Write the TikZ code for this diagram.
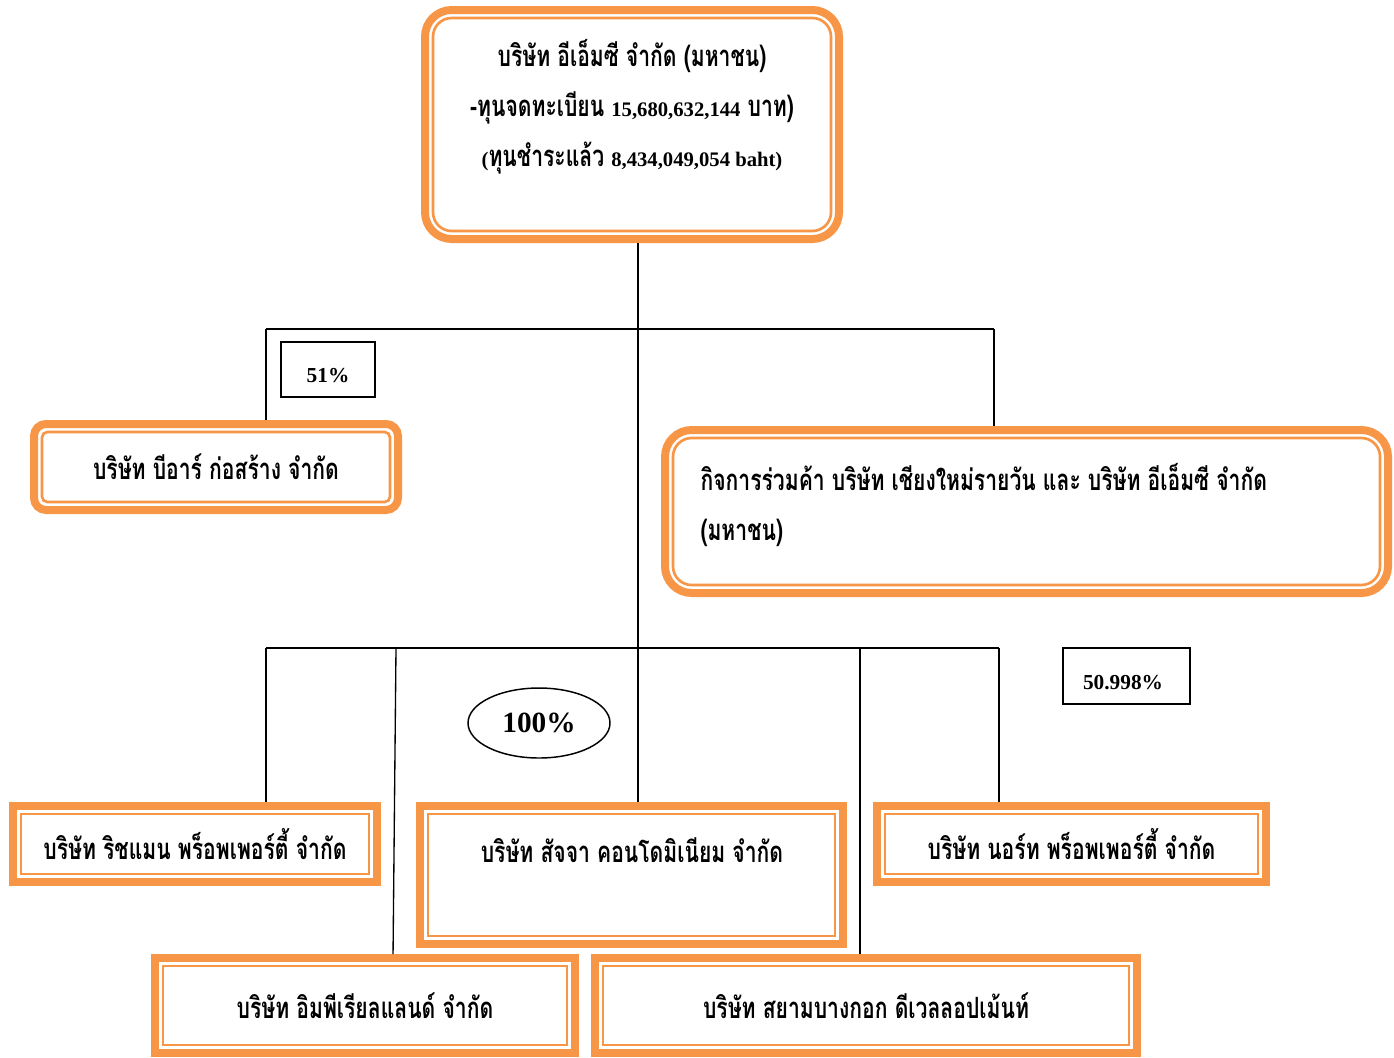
\documentclass[tikz,border=0pt]{standalone}
\usepackage{fontspec}
\setmainfont{Loma}[Script=Thai, FakeStretch=0.72]
\newfontfamily\latfont{Liberation Serif}
\newcommand\latnum[1]{{\latfont\fontsize{15.5}{37.5}\selectfont #1}}
\usetikzlibrary{positioning,calc,shapes.geometric}
\definecolor{orgline}{RGB}{247,150,70}

\tikzset{every picture/.style={line width=0.75pt}}
\tikzset{
  orgbox/.style={draw=orgline, line width=6pt, fill=white, inner sep=0pt, outer sep=0pt},
  innerline/.style={draw=orgline, line width=2pt},
  link/.style={draw=black, line width=1pt},
  pctbox/.style={draw=black, line width=1pt, inner sep=0pt},
  thtxt/.style={font=\bfseries\fontsize{22}{37.5}\selectfont, inner sep=0pt},
  pcttxt/.style={font=\latfont\bfseries\fontsize{16}{18}\selectfont, inner sep=0pt}
}

\begin{document}
\begin{tikzpicture}[x=0.75pt,y=0.75pt,yscale=-1,xscale=1]
	\useasboundingbox (0,0) rectangle (1394,1057);

	% Company boxes
	\node[orgbox, rounded corners=20pt, minimum width=310.5pt, minimum height=171.75pt] (emc) at (632,124.5) {};
	\node[orgbox, rounded corners=9pt, minimum width=273pt, minimum height=64.5pt, thtxt] (br) at (216,467) {บริษัท บีอาร์ ก่อสร้าง จำกัด};
	\node[orgbox, rounded corners=20pt, minimum width=542.25pt, minimum height=122.25pt] (jv) at (1026.5,511.5) {};
	\node[orgbox, minimum width=273pt, minimum height=57pt, thtxt] (richman) at (195,844) {บริษัท ริชแมน พร็อพเพอร์ตี้ จำกัด};
	\node[orgbox, minimum width=317.25pt, minimum height=103.5pt] (sajja) at (631.5,875) {};
	\node[orgbox, minimum width=291.75pt, minimum height=57pt, thtxt] (north) at (1071.5,844) {บริษัท นอร์ท พร็อพเพอร์ตี้ จำกัด};
	\node[orgbox, minimum width=315pt, minimum height=71.25pt, thtxt] (imperial) at (365,1005.5) {บริษัท อิมพีเรียลแลนด์ จำกัด};
	\node[orgbox, minimum width=406.5pt, minimum height=71.25pt, thtxt] (siam) at (866,1005.5) {บริษัท สยามบางกอก ดีเวลลอปเม้นท์};

	% inner lines
	\draw[innerline, rounded corners=14pt] ($(emc.north west)+(8,8)$) rectangle ($(emc.south east)+(-8,-8)$);
	\draw[innerline, rounded corners=4pt] ($(br.north west)+(8,8)$) rectangle ($(br.south east)+(-8,-8)$);
	\draw[innerline, rounded corners=14pt] ($(jv.north west)+(8,8)$) rectangle ($(jv.south east)+(-8,-8)$);
	\draw[innerline] ($(richman.north west)+(8,8)$) rectangle ($(richman.south east)+(-8,-8)$);
	\draw[innerline] ($(sajja.north west)+(8,8)$) rectangle ($(sajja.south east)+(-8,-8)$);
	\draw[innerline] ($(north.north west)+(8,8)$) rectangle ($(north.south east)+(-8,-8)$);
	\draw[innerline] ($(imperial.north west)+(8,8)$) rectangle ($(imperial.south east)+(-8,-8)$);
	\draw[innerline] ($(siam.north west)+(8,8)$) rectangle ($(siam.south east)+(-8,-8)$);

	% Text Node
	\node[thtxt, align=center] (emctxt) at (632,107) {บริษัท อีเอ็มซี จำกัด (มหาชน)\\-ทุนจดทะเบียน \latnum{15,680,632,144} บาท)\\\latnum{(}ทุนชำระแล้ว \latnum{8,434,049,054 baht)}};
	% Text Node
	\node[thtxt, align=left, anchor=west] (jvtxt) at (700,505) {กิจการร่วมค้า บริษัท เชียงใหม่รายวัน และ บริษัท อีเอ็มซี จำกัด\\(มหาชน)};
	% Text Node
	\node[thtxt] (sajjatxt) at (632,850) {บริษัท สัจจา คอนโดมิเนียม จำกัด};

	% Percent labels
	\node[pctbox, minimum width=70.5pt, minimum height=41.25pt] (pct51) at (328,369.5) {};
	\node[pcttxt] (pct51txt) at (328,376) {51\%};
	\node[pctbox, minimum width=95.25pt, minimum height=42pt] (pct50) at (1126.5,676) {};
	\node[pcttxt] (pct50txt) at (1123,683) {50.998\%};
	\node[ellipse, draw=black, line width=1.1pt, minimum width=106.5pt, minimum height=52.5pt, inner sep=0pt, font=\latfont\bfseries\fontsize{22}{24}\selectfont] (pct100) at (539,723) {100\%};

	% Straight Lines
	\coordinate (ubL) at (266,329);
	\coordinate (ubM) at (638,329);
	\coordinate (ubR) at (994,329);
	\coordinate (lbL) at (266,648);
	\coordinate (lbI) at (396,648);
	\coordinate (lbM) at (638,648);
	\coordinate (lbS) at (860,648);
	\coordinate (lbR) at (999,648);
	\draw[link, shorten <=3pt] (emc.south -| ubM) -- (lbM);
	\draw[link] (ubL) -- (ubR);
	\draw[link, shorten >=3pt] (ubL) -- (ubL |- br.north);
	\draw[link, shorten >=3pt] (ubR) -- (ubR |- jv.north);
	\draw[link] (lbL) -- (lbR);
	\draw[link, shorten >=3pt] (lbL) -- (lbL |- richman.north);
	\draw[link, shorten >=3pt] (lbI) -- ($(lbI |- imperial.north)+(-3,0)$);
	\draw[link, shorten >=3pt] (lbM) -- (lbM |- sajja.north);
	\draw[link, shorten >=3pt] (lbS) -- (lbS |- siam.north);
	\draw[link, shorten >=3pt] (lbR) -- (lbR |- north.north);

\end{tikzpicture}
\end{document}
